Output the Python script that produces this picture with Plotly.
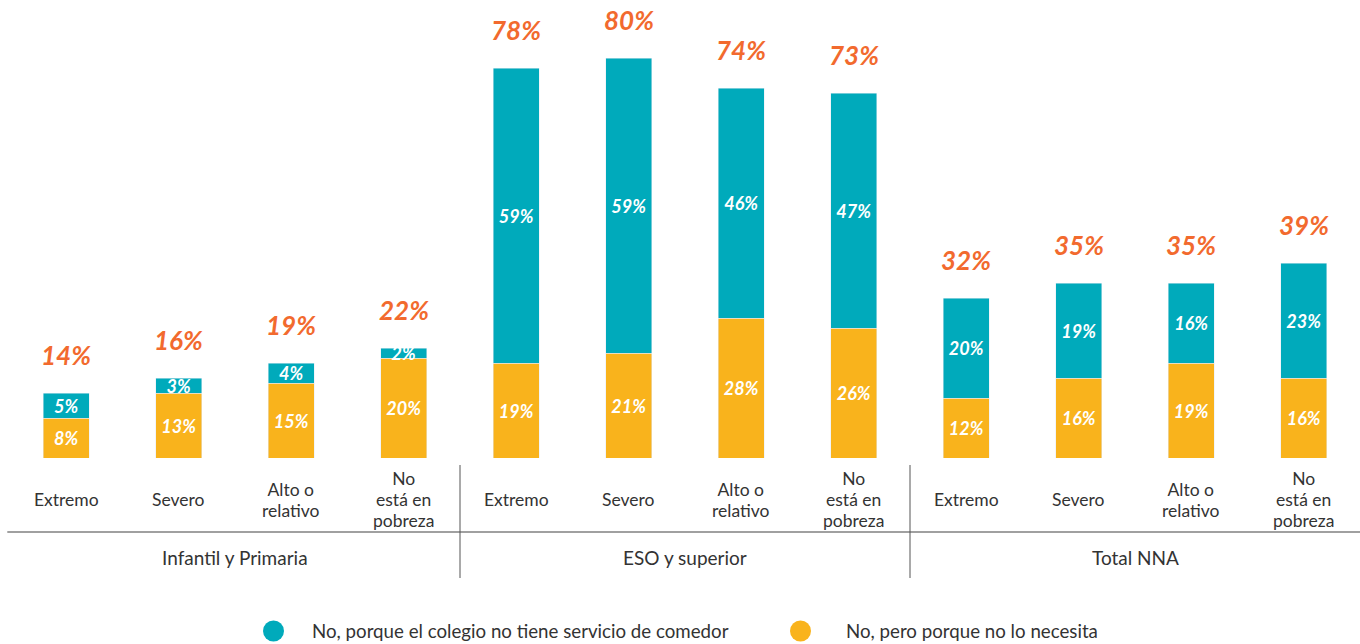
import plotly.graph_objects as go

# Data
groups = ["Infantil y Primaria", "ESO y superior", "Total NNA"]
levels = ["Extremo", "Severo", "Alto o<br>relativo", "No<br>está en<br>pobreza"]
sin_servicio = [5, 3, 4, 2, 59, 59, 46, 47, 20, 19, 16, 23]
no_necesita = [8, 13, 15, 20, 19, 21, 28, 26, 12, 16, 19, 16]
totales = [14, 16, 19, 22, 78, 80, 74, 73, 32, 35, 35, 39]
series_names = ["No, porque el colegio no tiene servicio de comedor",
                "No, pero porque no lo necesita"]

TEAL = "#00aabb"
YELLOW = "#f9b31c"
ORANGE = "#f26a2e"
DARK = "#333333"
FONT = "Lato"

# Page geometry (pixels)
W, H = 1360, 644
ML, MR, MT, MB = 10, 0, 8, 186
PW, PH = W - ML - MR, H - MT - MB


def px_x(px):
    return (px - ML) / PW


def px_y(py):
    return (H - MB - py) / PH


keys = [f"{g}|{lv}" for g in groups for lv in levels]
tick_labels = [lv for g in groups for lv in levels]

fig = go.Figure()

seg_font = dict(family=FONT, size=18, color="white", weight="bold", style="italic")

fig.add_trace(go.Bar(
    x=keys, y=no_necesita, name=series_names[1], marker_color=YELLOW,
    text=[f"{v}%" for v in no_necesita], textposition="inside",
    insidetextanchor="middle", constraintext="none", textangle=0,
    textfont=seg_font, showlegend=False, hoverinfo="skip",
))
fig.add_trace(go.Bar(
    x=keys, y=sin_servicio, name=series_names[0], marker_color=TEAL,
    text=[f"{v}%" for v in sin_servicio], textposition="inside",
    insidetextanchor="middle", constraintext="none", textangle=0,
    textfont=seg_font, showlegend=False, hoverinfo="skip",
))

annotations = []
shapes = []

# Totals above each stacked bar
for k, a, b, t in zip(keys, sin_servicio, no_necesita, totales):
    annotations.append(dict(
        x=k, y=a + b, xref="x", yref="y", text=f"{t}%", showarrow=False,
        yanchor="middle", yshift=38,
        font=dict(family=FONT, size=26, color=ORANGE, weight="bold", style="italic"),
    ))

# Category labels under each bar. Line spacing follows the base font size
# (1.3em), so a smaller base with larger inline spans gives tighter leading.
LABEL_SIZE = 17.5
LEADING = 21
base_size = LEADING / 1.3
for k, lab in zip(keys, tick_labels):
    styled = "<br>".join(
        f'<span style="font-size:{LABEL_SIZE}px">{ln}</span>' for ln in lab.split("<br>")
    )
    annotations.append(dict(
        x=k, y=px_y(500), xref="x", yref="paper", text=styled, showarrow=False,
        yanchor="middle", align="center",
        font=dict(family=FONT, size=base_size, color=DARK),
    ))

# Group labels
n = len(levels)
for gi, g in enumerate(groups):
    annotations.append(dict(
        x=gi * n + (n - 1) / 2, y=px_y(557), xref="x", yref="paper", text=g,
        showarrow=False, yanchor="middle",
        font=dict(family=FONT, size=19, color=DARK),
    ))

# Divider under the category labels and separators between groups
shapes.append(dict(type="line", xref="paper", yref="paper", x0=-0.002, x1=1,
                   y0=px_y(532), y1=px_y(532), line=dict(color="#808080", width=1.5)))
for gi in range(1, len(groups)):
    xs = gi * n - 0.5
    shapes.append(dict(type="line", xref="x", yref="paper", x0=xs, x1=xs,
                       y0=px_y(465), y1=px_y(578), line=dict(color="#555555", width=1)))

# Legend: round swatch + label for each series
legend_items = [(series_names[0], TEAL, 273.5, 312), (series_names[1], YELLOW, 800.5, 846)]
for name, color, cx, tx in legend_items:
    shapes.append(dict(type="circle", xref="paper", yref="paper",
                       xsizemode="pixel", ysizemode="pixel",
                       xanchor=px_x(cx), yanchor=px_y(631),
                       x0=-10.5, x1=10.5, y0=-10.5, y1=10.5,
                       fillcolor=color, line=dict(width=0)))
    annotations.append(dict(
        x=px_x(tx - 2), y=px_y(631), xref="paper", yref="paper", text=name,
        showarrow=False, xanchor="left", yanchor="middle",
        font=dict(family=FONT, size=18.7, color=DARK),
    ))

fig.update_layout(
    width=W, height=H,
    margin=dict(l=ML, r=MR, t=MT, b=MB),
    barmode="stack", bargap=0.59,
    plot_bgcolor="white", paper_bgcolor="white",
    font=dict(family=FONT, color=DARK),
    xaxis=dict(type="category", categoryorder="array", categoryarray=keys,
               showticklabels=False, showgrid=False, zeroline=False, showline=False,
               fixedrange=True),
    yaxis=dict(range=[0, PH / 5], visible=False, showgrid=False, zeroline=False,
               fixedrange=True),
    showlegend=False,
    annotations=annotations,
    shapes=shapes,
)

fig.write_html("out.html")
